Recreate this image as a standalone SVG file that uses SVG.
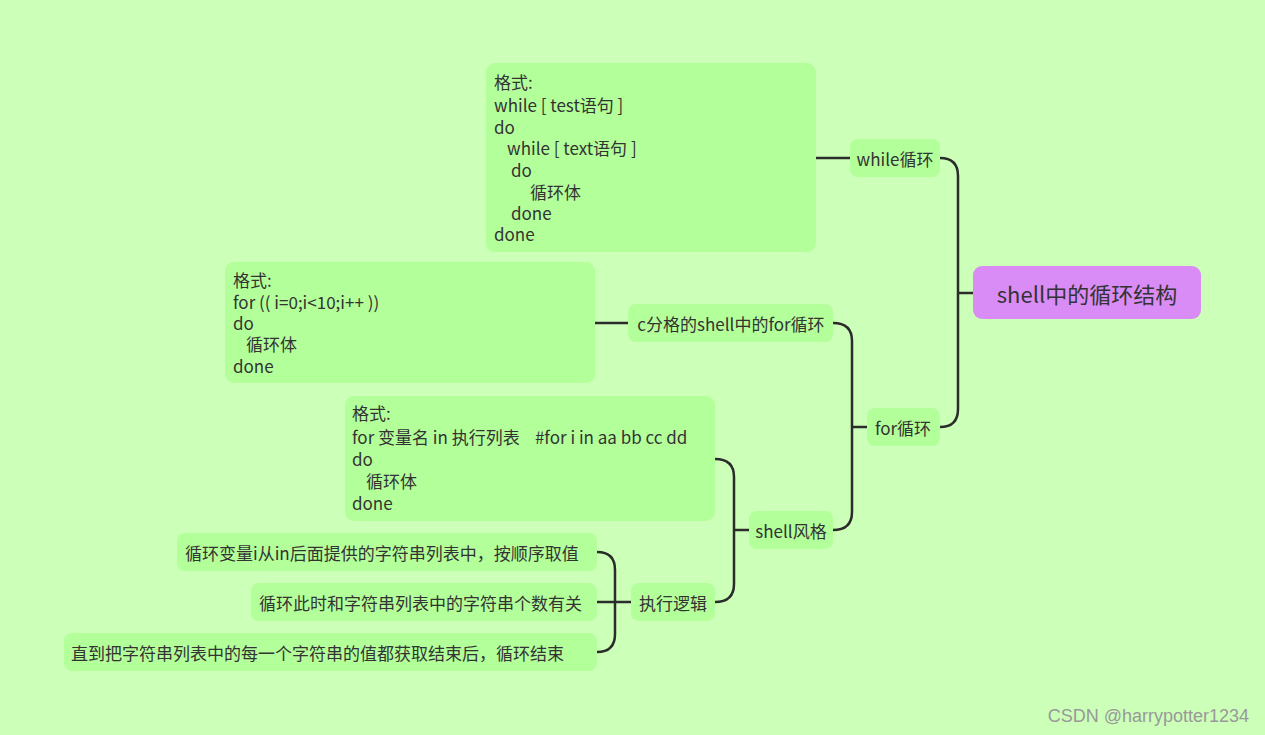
<svg xmlns="http://www.w3.org/2000/svg" width="1265" height="735" viewBox="0 0 1265 735">
<style>
text{font-family:"Noto Sans CJK SC","Noto Sans",sans-serif;font-size:17px;fill:#333}
.n{fill:#b3ff99}
.c{text-anchor:middle;dominant-baseline:central}
.m{dominant-baseline:central}
.l{fill:none;stroke:#2b2b2b;stroke-width:2.5}
</style>
<rect width="1265" height="735" fill="#ccffb8"/>
<g id="connectors">
<path class="l" d="M940 158 Q958 158 958 176 V409 Q958 427 940 427 M958 293 H973"/>
<path class="l" d="M816 158 H850"/>
<path class="l" d="M867 427 H852 M833 323 Q852 323 852 341 V512 Q852 530 833 530"/>
<path class="l" d="M595 323 H628"/>
<path class="l" d="M749 530 H734 M715 459 Q734 459 734 477 V584 Q734 602 715 602"/>
<path class="l" d="M631 602 H597 M597 552 Q615 552 615 570 V634 Q615 652 597 652"/>
</g>
<g id="root"><rect x="973" y="266" width="228" height="53" rx="9" fill="#d98cf5"/><text class="c" x="1087" y="293" style="font-size:22px">shell中的循环结构</text></g>
<g id="while"><rect class="n" x="850" y="139" width="90" height="38" rx="8"/><text class="c" x="895" y="158">while循环</text></g>
<g id="whilebox"><rect class="n" x="486" y="63" width="330" height="189" rx="9"/>
<text x="494" y="89">格式:</text><text x="494" y="112">while [ test语句 ]</text><text x="494" y="134">do</text><text x="507" y="155">while [ text语句 ]</text><text x="511" y="177">do</text><text x="530" y="199">循环体</text><text x="511" y="220">done</text><text x="494" y="241">done</text></g>
<g id="for"><rect class="n" x="867" y="408" width="73" height="38" rx="8"/><text class="c" x="903" y="427">for循环</text></g>
<g id="cfor"><rect class="n" x="628" y="304" width="205" height="38" rx="8"/><text class="c" x="731" y="323">c分格的shell中的for循环</text></g>
<g id="cbox"><rect class="n" x="225" y="262" width="370" height="121" rx="9"/>
<text x="233" y="287">格式:</text><text x="233" y="309">for (( i=0;i&lt;10;i++ ))</text><text x="233" y="330">do</text><text x="246" y="351">循环体</text><text x="233" y="373">done</text></g>
<g id="shell"><rect class="n" x="749" y="511" width="84" height="38" rx="8"/><text class="c" x="791" y="530">shell风格</text></g>
<g id="shellbox"><rect class="n" x="345" y="396" width="370" height="125" rx="9"/>
<text x="352" y="420">格式:</text><text x="352" y="444" xml:space="preserve">for 变量名 in 执行列表    #for i in aa bb cc dd</text><text x="352" y="466">do</text><text x="366" y="488">循环体</text><text x="352" y="510">done</text></g>
<g id="logic"><rect class="n" x="631" y="583" width="84" height="38" rx="8"/><text class="c" x="673" y="602">执行逻辑</text></g>
<g id="leaf1"><rect class="n" x="177" y="533" width="420" height="38" rx="8"/><text class="m" x="185" y="552">循环变量i从in后面提供的字符串列表中，按顺序取值</text></g>
<g id="leaf2"><rect class="n" x="251" y="583" width="346" height="38" rx="8"/><text class="m" x="259" y="602">循环此时和字符串列表中的字符串个数有关</text></g>
<g id="leaf3"><rect class="n" x="64" y="633" width="533" height="38" rx="8"/><text class="m" x="71" y="652">直到把字符串列表中的每一个字符串的值都获取结束后，循环结束</text></g>
<text x="1249" y="722" style="fill:#999;text-anchor:end;font-size:18px;font-family:'Liberation Sans',sans-serif">CSDN @harrypotter1234</text>
</svg>
